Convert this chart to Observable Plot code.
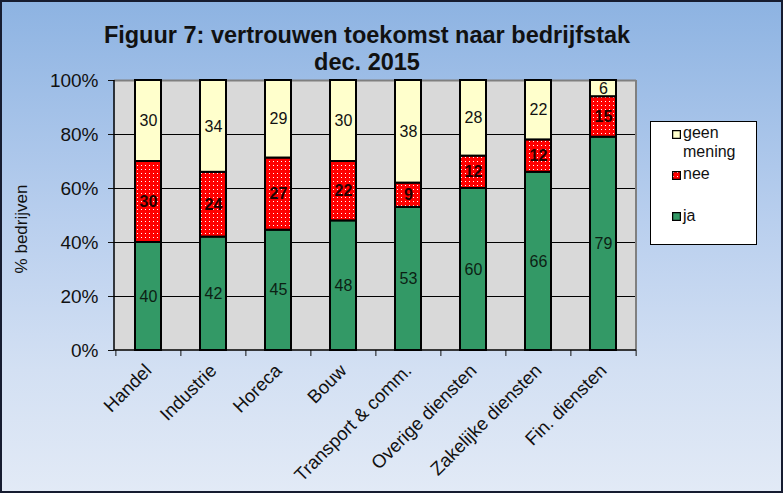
<!DOCTYPE html>
<html><head><meta charset="utf-8">
<script src="https://cdn.jsdelivr.net/npm/d3@7"></script>
<script src="https://cdn.jsdelivr.net/npm/@observablehq/plot@0.6"></script>
<style>
html,body{margin:0;padding:0;background:#fff;}
#page{position:relative;width:783px;height:493px;overflow:hidden;background:linear-gradient(to bottom,#8db3e2 0%,#b9cfee 45%,#d3e0f3 75%,#e2eaf6 100%);font-family:"Liberation Sans",Arial,sans-serif;color:#111;}
#border{position:absolute;left:0;top:0;width:783px;height:493px;box-sizing:border-box;border:2px solid #161c30;pointer-events:none;}
#title{position:absolute;left:0;top:22px;width:734px;text-align:center;font-weight:bold;font-size:23.5px;line-height:27px;}
#plot{position:absolute;left:0;top:0;}
#ytitle{position:absolute;left:22px;top:229px;transform:translate(-50%,-50%) rotate(-90deg);white-space:nowrap;font-size:17px;}
#legend{position:absolute;left:650px;top:121px;width:107px;height:124px;box-sizing:border-box;border:1px solid #000;background:#fff;}
.lt{position:absolute;font-size:16px;line-height:19px;white-space:nowrap;}
.sw{position:absolute;}
</style></head>
<body>
<div id="page">
  <div id="title">Figuur 7: vertrouwen toekomst naar bedrijfstak<br>dec. 2015</div>
  <div id="plot"></div>
  <div id="ytitle">% bedrijven</div>
  <div id="legend"></div>
  <div id="border"></div>
</div>
<script>
const categories = ["Handel","Industrie","Horeca","Bouw","Transport & comm.","Overige diensten","Zakelijke diensten","Fin. diensten"];
const ja   = [40,42,45,48,53,60,66,79];
const nee  = [30,24,27,22,9,12,12,15];
const geen = [30,34,29,30,38,28,22,6];
const series = ["ja","nee","geen mening"];
const seriesColors = ["#339966","url(#dots)","#ffffcc"];
const yTicks = [0,0.2,0.4,0.6,0.8,1];
const gridTicks = [0.2,0.4,0.6,0.8];

const rows = [];
categories.forEach((c,i)=>{
  rows.push({cat:c, series:"ja", value:ja[i]});
  rows.push({cat:c, series:"nee", value:nee[i]});
  rows.push({cat:c, series:"geen mening", value:geen[i]});
});

const W=783,H=493,ML=114,MR=147,MT=80,MB=143;
const step=(W-ML-MR)/categories.length;
const font='"Liberation Sans",Arial,sans-serif';

const stackOpts = extra => Plot.stackY({x:"cat", y:"value", offset:"normalize", ...extra});

const chart = Plot.plot({
  width:W, height:H, marginLeft:ML, marginRight:MR, marginTop:MT, marginBottom:MB,
  style:{fontFamily:font, fontSize:"18px", color:"#111", background:"transparent", overflow:"visible"},
  x:{domain:categories, paddingInner:0.6, paddingOuter:0.3, axis:null, label:null},
  y:{domain:[0,1], axis:null, label:null},
  color:{domain:series, range:seriesColors},
  marks:[
    Plot.frame({fill:"#d9d9d9", stroke:null}),
    Plot.ruleY(gridTicks, {stroke:"#000", strokeWidth:1}),
    Plot.ruleY([1], {stroke:"#808080", strokeWidth:2}),
    (index, scales, values, dims) => {
      const g = d3.create("svg:g");
      const r = dims.width - dims.marginRight, b = dims.height - dims.marginBottom;
      g.append("line").attr("x1",r).attr("x2",r).attr("y1",dims.marginTop).attr("y2",b).attr("stroke","#808080").attr("stroke-width",2);
      return g.node();
    },
    Plot.barY(rows, stackOpts({fill:"series", stroke:"#000", strokeWidth:2})),
    Plot.text(rows, Plot.filter(d=>d.series==="ja", stackOpts({text:"value", fill:"#0c1f14", fontSize:16}))),
    Plot.text(rows, Plot.filter(d=>d.series==="nee", stackOpts({text:"value", fill:"#220000", fontSize:16, fontWeight:"bold"}))),
    Plot.text(rows, Plot.filter(d=>d.series==="geen mening", stackOpts({text:"value", fill:"#111", fontSize:16}))),
    Plot.axisY({ticks:yTicks, tickFormat:d=>Math.round(d*100)+"%", tickSize:6, tickPadding:10, fontSize:19, label:null}),
    Plot.axisX({tickSize:6, dx:-step/2, text:null, label:null}),
    Plot.axisX({ticks:[categories[categories.length-1]], tickSize:6, dx:step/2, text:null, label:null}),
    Plot.axisX({tickSize:0, tickRotate:-45, tickPadding:17, fontSize:18.5, label:null}),
    (index, scales, values, dims) => {
      const g = d3.create("svg:g");
      const b = dims.height - dims.marginBottom, l = dims.marginLeft, r = dims.width - dims.marginRight;
      g.append("line").attr("x1",l).attr("x2",l).attr("y1",dims.marginTop).attr("y2",b).attr("stroke","#000").attr("stroke-width",1.5);
      g.append("line").attr("x1",l).attr("x2",r).attr("y1",b).attr("y2",b).attr("stroke","#000").attr("stroke-width",1.5);
      return g.node();
    }
  ]
});

// dotted pattern for "nee"
const defs = d3.select(chart).insert("defs", ":first-child");
const pat = defs.append("pattern").attr("id","dots").attr("width",4).attr("height",4).attr("patternUnits","userSpaceOnUse");
pat.append("rect").attr("width",4).attr("height",4).attr("fill","#ff0000");
pat.append("rect").attr("x",1).attr("y",1).attr("width",1).attr("height",1).attr("fill","#ffffff");
document.getElementById("plot").appendChild(chart);

// legend
const leg = document.getElementById("legend");
const items = [
  {lines:["geen","mening"], color:seriesColors[2], base:137.7, sw:130},
  {lines:["nee"], color:seriesColors[1], base:178.3, sw:171},
  {lines:["ja"], color:seriesColors[0], base:220.7, sw:212}
];
const LX=650, LY=121;
items.forEach(it=>{
  const s = document.createElementNS("http://www.w3.org/2000/svg","svg");
  s.setAttribute("width",9); s.setAttribute("height",9);
  s.setAttribute("class","sw");
  s.style.left=(672-LX-1)+"px"; s.style.top=(it.sw-LY-1)+"px";
  s.innerHTML=`<rect x="0.5" y="0.5" width="8" height="8" fill="${it.color}" stroke="#000" stroke-width="1.5"/>`;
  leg.appendChild(s);
  it.lines.forEach((t,k)=>{
    const d=document.createElement("div");
    d.className="lt"; d.textContent=t;
    d.style.left=(683-LX-1)+"px";
    d.style.top=(it.base + k*19 - 14.8 - LY - 1)+"px";
    leg.appendChild(d);
  });
});
</script>
</body></html>
